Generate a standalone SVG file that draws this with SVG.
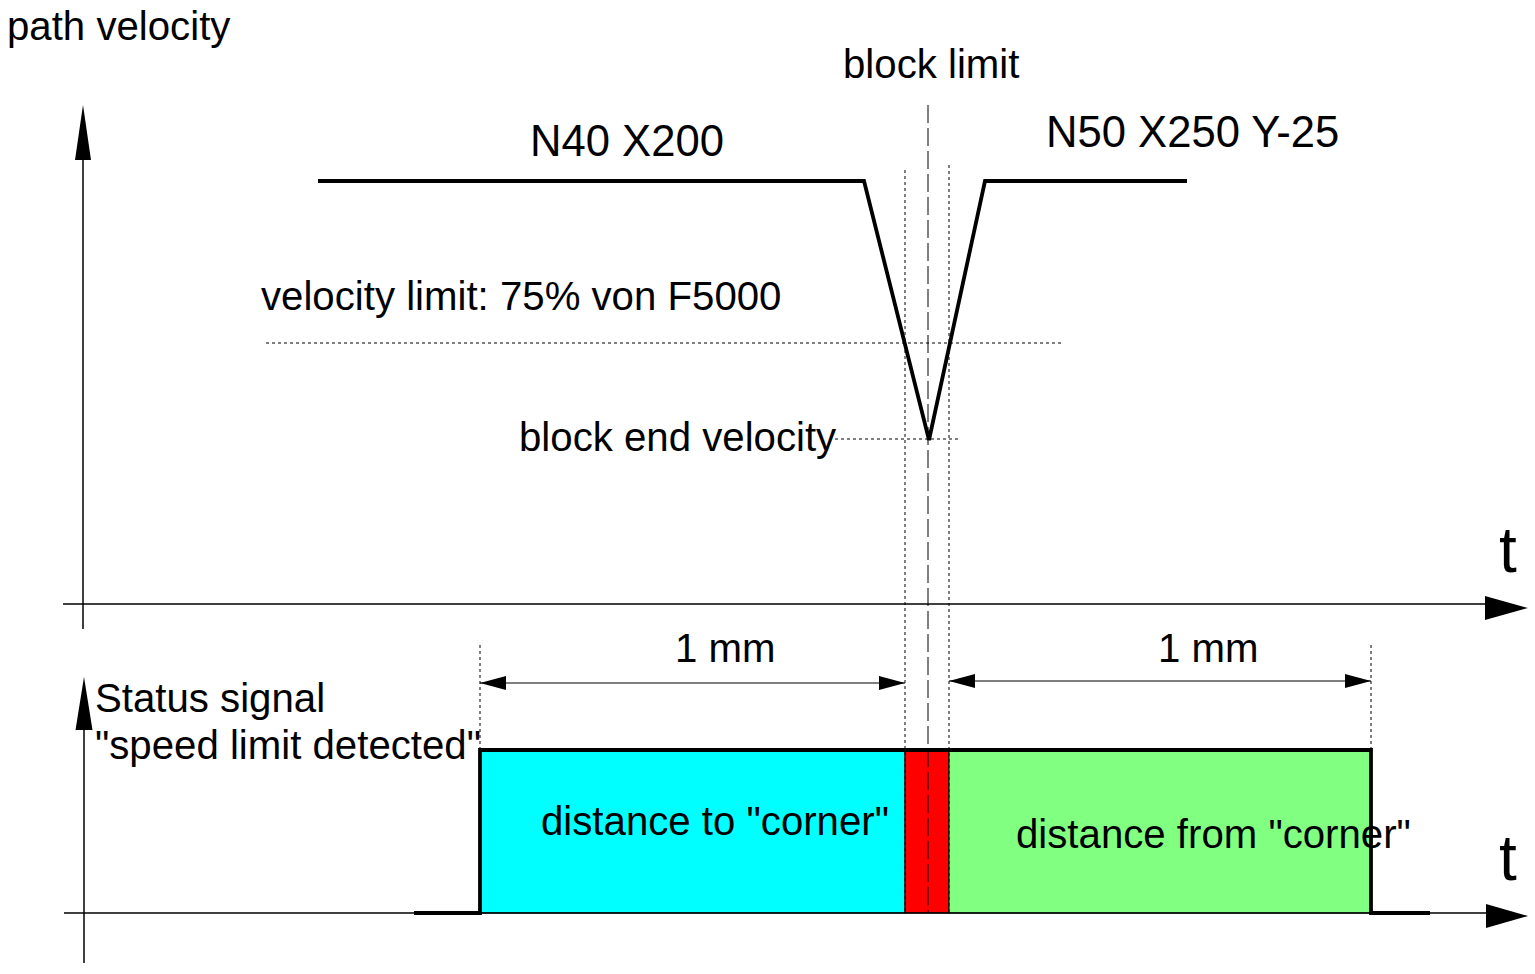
<svg xmlns="http://www.w3.org/2000/svg" width="1535" height="974" viewBox="0 0 1535 974">
<style>
text{font-family:"Liberation Sans",Arial,sans-serif;fill:#000}
.t40{font-size:40.2px}
.t43{font-size:43.6px}
.tbig{font-size:64px}
.axis{stroke:#000;stroke-width:1.5;fill:none}
.thick{stroke:#000;stroke-width:3.8;fill:none;stroke-linejoin:miter}
.dot{stroke:#000;stroke-width:1;stroke-dasharray:3 3;fill:none}
.dash{stroke:#000;stroke-width:1;stroke-dasharray:18 5;fill:none}
.dim{stroke:#000;stroke-width:1.2;fill:none}
</style>
<defs>
<marker id="dimA" markerWidth="26" markerHeight="14" refX="26" refY="7" orient="auto-start-reverse" markerUnits="userSpaceOnUse">
<path d="M0,0 L26,7 L0,14 Z" fill="#000"/>
</marker>
</defs>
<g id="fills">
<rect x="480" y="750" width="425" height="163" fill="#00ffff" stroke="#000" stroke-width="1"/>
<rect x="905" y="750" width="44" height="163" fill="#ff0000" stroke="#000" stroke-width="1"/>
<rect x="949" y="750" width="422" height="163" fill="#80ff80" stroke="#000" stroke-width="1"/>
</g>
<g id="axes">
<line class="axis" x1="83" y1="629" x2="83" y2="158"/>
<path d="M83,105 L91,160 L75,160 Z" fill="#000"/>
<line class="axis" x1="63" y1="604" x2="1488" y2="604"/>
<path d="M1528,608 L1485,596 L1485,620 Z" fill="#000"/>
<line class="axis" x1="84" y1="963" x2="84" y2="728"/>
<path d="M84,677 L92.5,730 L75.5,730 Z" fill="#000"/>
<line class="axis" x1="64" y1="913" x2="1488" y2="913"/>
<path d="M1528,916 L1486,904 L1486,928 Z" fill="#000"/>
</g>
<g id="connectors">
<polyline class="thick" points="318,181 864,181 929,440 985,181 1187,181"/>
<line class="dash" x1="928" y1="105" x2="928" y2="913"/>
<line class="dot" x1="905" y1="170" x2="905" y2="913"/>
<line class="dot" x1="949" y1="165" x2="949" y2="913"/>
<line class="dot" x1="266" y1="343" x2="1062" y2="343"/>
<line class="dot" x1="835" y1="439" x2="958" y2="439"/>
<line class="dot" x1="480" y1="645" x2="480" y2="750"/>
<line class="dot" x1="1371" y1="645" x2="1371" y2="750"/>
<line class="dim" x1="480" y1="683" x2="905" y2="683" marker-start="url(#dimA)" marker-end="url(#dimA)"/>
<line class="dim" x1="949" y1="681" x2="1371" y2="681" marker-start="url(#dimA)" marker-end="url(#dimA)"/>
<polyline class="thick" points="414,913 480,913 480,750 1371,750 1371,913 1430,913"/>
</g>
<g id="labels">
<text class="t40" x="7" y="40">path velocity</text>
<text class="t40" x="843" y="78">block limit</text>
<text class="t43" x="530" y="156">N40 X200</text>
<text class="t43" x="1046" y="147">N50 X250 Y-25</text>
<text class="t40" x="261" y="310">velocity limit: 75% von F5000</text>
<text class="t40" x="519" y="451">block end velocity</text>
<text class="tbig" x="1499" y="572">t</text>
<text class="tbig" x="1499" y="880">t</text>
<text class="t40" x="675" y="662">1 mm</text>
<text class="t40" x="1158" y="662">1 mm</text>
<text class="t40" x="95" y="712">Status signal</text>
<text class="t40" x="95" y="759">"speed limit detected"</text>
<text class="t40" x="541" y="835">distance to "corner"</text>
<text class="t40" x="1016" y="848">distance from "corner"</text>
</g>
</svg>
